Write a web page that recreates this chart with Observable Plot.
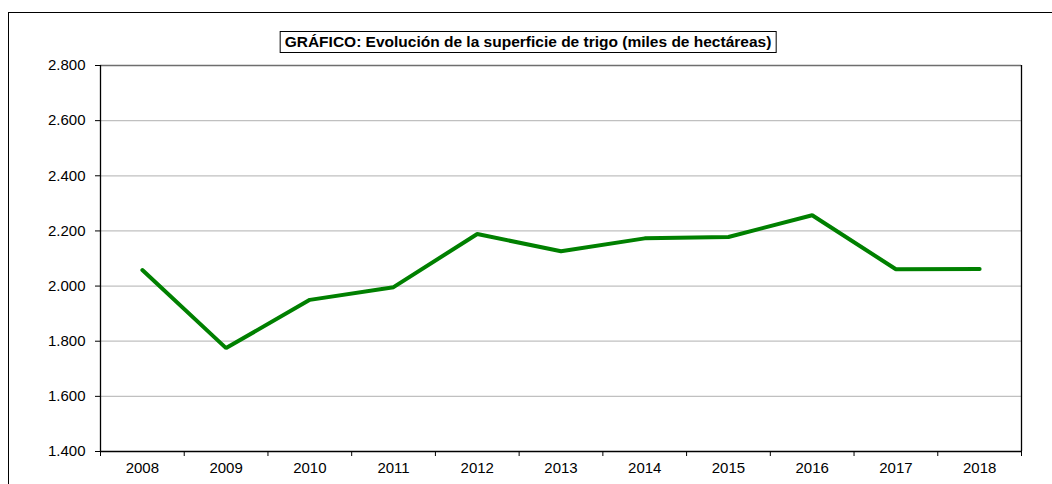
<!DOCTYPE html>
<html>
<head>
<meta charset="utf-8">
<script src="https://cdn.jsdelivr.net/npm/d3@7"></script>
<script src="https://cdn.jsdelivr.net/npm/@observablehq/plot@0.6"></script>
<style>
  html, body { margin: 0; padding: 0; background: #fff; }
  #wrap { position: relative; width: 1052px; height: 484px; overflow: hidden; font-family: "Liberation Sans", Arial, sans-serif; }
  #outer { position: absolute; left: 8px; top: 12px; width: 1100px; height: 600px; border: 1px solid #000; box-sizing: border-box; }
  #title { position: absolute; left: 528px; top: 31px; transform: translateX(-50%); padding: 1px 4px 2px 4px; border: 1px solid #000; font-weight: bold; font-size: 15.5px; color: #000; background: #fff; white-space: nowrap; line-height: 17px; }
  #chart { position: absolute; left: 0; top: 0; }
</style>
</head>
<body>
<div id="wrap">
  <div id="outer"></div>
  <div id="chart"></div>
  <div id="title">GRÁFICO: Evolución de la superficie de trigo (miles de hectáreas)</div>
</div>
<script>
const years = [2008, 2009, 2010, 2011, 2012, 2013, 2014, 2015, 2016, 2017, 2018];
const superficie = [2058, 1775, 1950, 1996, 2189, 2126, 2173, 2178, 2257, 2061, 2062];
const yTicks = [1400, 1600, 1800, 2000, 2200, 2400, 2600, 2800];

const data = years.map((y, i) => ({year: y, value: superficie[i]}));
const boundaries = [years[0] - 0.5, ...years.map(y => y + 0.5)];
const fmt = d3.formatLocale({decimal: ",", thousands: ".", grouping: [3], currency: ["", ""]}).format(",d");

const chart = Plot.plot({
  width: 1052,
  height: 484,
  marginLeft: 100,
  marginRight: 31,
  marginTop: 65,
  marginBottom: 33,
  style: {fontFamily: "'Liberation Sans', Arial, sans-serif", fontSize: "15px", color: "#000", background: "transparent", overflow: "visible"},
  x: {type: "linear", domain: [years[0] - 0.5, years[years.length - 1] + 0.5]},
  y: {domain: [1400, 2800]},
  marks: [
    Plot.ruleY(yTicks.slice(1, -1), {stroke: "#c0c0c0", strokeWidth: 1.3}),
    Plot.ruleY([2800], {stroke: "#6e6e6e", strokeWidth: 1.3}),
    Plot.ruleX([years[years.length - 1] + 0.5], {stroke: "#000", strokeWidth: 1.3}),
    Plot.axisY({ticks: yTicks, tickFormat: fmt, tickSize: 5, tickPadding: 10, label: null, stroke: "#000", fill: "#000", fontSize: 15}),
    Plot.axisX({ticks: years, tickFormat: d => String(d), tickSize: 0, tickPadding: 11, label: null, fill: "#000", fontSize: 15}),
    Plot.axisX({ticks: boundaries, tickFormat: () => "", tickSize: 5, label: null, stroke: "#000"}),
    Plot.ruleX([years[0] - 0.5], {stroke: "#000", strokeWidth: 1.3}),
    Plot.ruleY([1400], {stroke: "#000", strokeWidth: 1.3}),
    Plot.line(data, {x: "year", y: "value", stroke: "#008000", strokeWidth: 4, strokeLinejoin: "miter", strokeLinecap: "round"})
  ]
});
document.getElementById("chart").appendChild(chart);
</script>
</body>
</html>
